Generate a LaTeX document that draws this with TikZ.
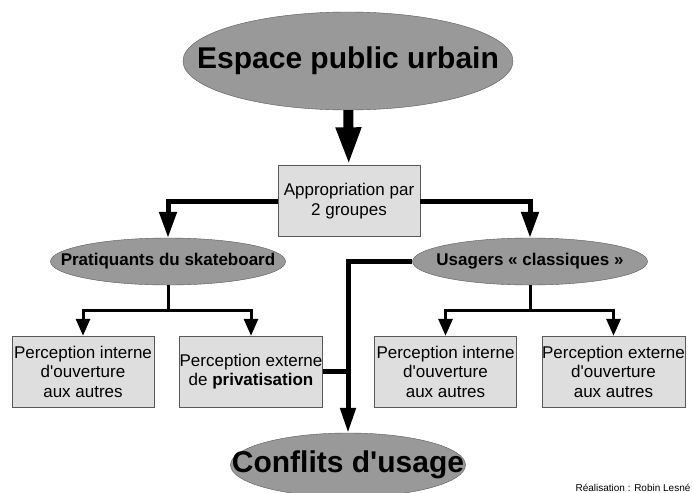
\documentclass[tikz,border=0pt]{standalone}
\usepackage{fontspec}
\setmainfont{Liberation Sans}[Ligatures=TeXOff]
\usetikzlibrary{arrows.meta,shapes.geometric}

\begin{document}
\begin{tikzpicture}[x=1pt,y=-1pt]
\tikzset{bigoval/.style = {shape=ellipse,draw=gray!70!black,fill=black!40,inner sep=0pt,label={[font=\fontsize{30}{36}\selectfont\bfseries]center:#1}}}
\tikzset{oval/.style = {shape=ellipse,draw=gray!70!black,fill=black!40,inner sep=0pt,minimum width=235pt,minimum height=47pt,label={[font=\fontsize{17}{20}\selectfont\bfseries]center:#1}}}
\tikzset{box/.style = {shape=rectangle,draw=gray!70!black,fill=black!13,inner sep=0pt,minimum width=142pt,minimum height=71pt,align=center,font=\fontsize{17}{19.5}\selectfont}}
\tikzset{bigedge/.style = {line width=10pt,-{Triangle[length=38pt,width=23pt]}}}
\tikzset{edge/.style = {line width=5pt,-{Triangle[length=26pt,width=17pt]}}}
\tikzset{thinedge/.style = {line width=3pt,-{Triangle[length=17pt,width=14pt]}}}
\tikzset{thickedge/.style = {line width=5pt,-{Triangle[length=25pt,width=15pt]}}}
\useasboundingbox (0,0) rectangle (694,493);
% vertices
\node[bigoval={Espace public urbain},minimum width=330pt,minimum height=98pt] (espace) at (348,61) {};
\node[box] (appro) at (349,201) {Appropriation par\\2 groupes};
\node[oval={Pratiquants du skateboard}] (prat) at (168,261.5) {};
\node[oval={Usagers « classiques »}] (usag) at (530,261.5) {};
\node[box] (pratint) at (83,371.5) {Perception interne\\d'ouverture\\aux autres};
\node[box] (pratext) at (251,371.5) {Perception externe\\de \textbf{privatisation}};
\node[box] (usagint) at (445.5,371.5) {Perception interne\\d'ouverture\\aux autres};
\node[box] (usagext) at (613.5,371.5) {Perception externe\\d'ouverture\\aux autres};
\node[bigoval={Conflits d'usage},minimum width=235pt,minimum height=64pt] (conf) at (348,465) {};
\node[anchor=base west,font=\fontsize{10}{12}\selectfont] (credit) at (572,491) {Réalisation : Robin Lesné};
%edges
\draw[bigedge] (espace) -- (appro);
\draw[edge] (appro.west) -| (prat.north);
\draw[edge] (appro.east) -| (usag.north);
\draw[thinedge] (prat.south) -- ++(0,25) -| (pratint.north);
\draw[thinedge] (prat.south) -- ++(0,25) -| (pratext.north);
\draw[thinedge] (usag.south) -- ++(0,25) -| (usagint.north);
\draw[thinedge] (usag.south) -- ++(0,25) -| (usagext.north);
\draw[thickedge] (usag.west) -| (conf.north);
\draw[line width=5pt] (pratext.east) -- (pratext.east -| conf.north);
\end{tikzpicture}
\end{document}
